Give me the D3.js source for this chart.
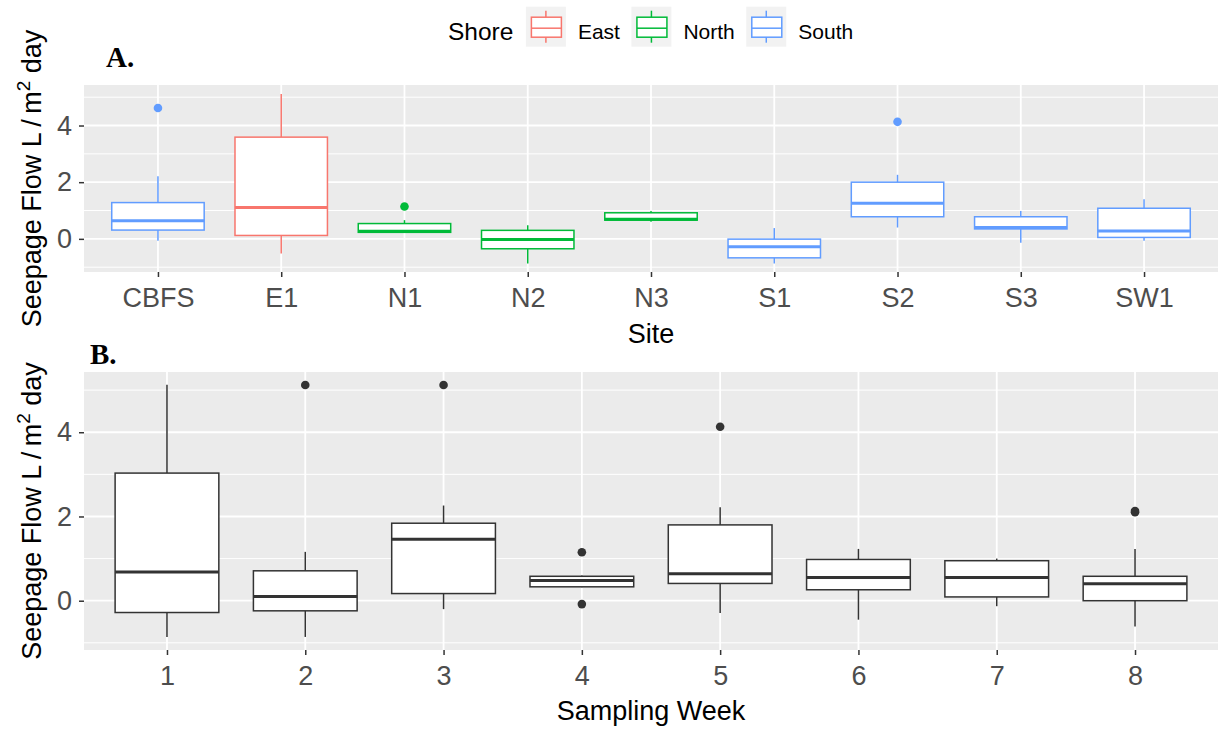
<!DOCTYPE html>
<html>
<head>
<meta charset="utf-8">
<script src="https://cdn.jsdelivr.net/npm/d3@7"></script>
<style>
  body { margin: 0; background: #fff; }
  text { font-family: "Liberation Sans", Arial, sans-serif; }
</style>
</head>
<body>
<svg id="chart" width="1226" height="730"></svg>
<script>
// panel A - by site
const sites = ["CBFS", "E1", "N1", "N2", "N3", "S1", "S2", "S3", "SW1"];
const siteShore = ["South", "East", "North", "North", "North", "South", "South", "South", "South"];
const siteLower  = [-0.07, -0.52, 0.23, -0.87, 0.60, -0.87, 0.40, -0.14, -0.07];
const siteQ1     = [0.31, 0.12, 0.23, -0.35, 0.66, -0.67, 0.78, 0.35, 0.05];
const siteMedian = [0.64, 1.11, 0.27, -0.02, 0.69, -0.28, 1.26, 0.40, 0.28];
const siteQ3     = [1.28, 3.59, 0.54, 0.30, 0.92, -0.01, 2.00, 0.78, 1.08];
const siteUpper  = [2.21, 5.11, 0.66, 0.48, 0.98, 0.38, 2.26, 0.98, 1.40];
const siteOutliers = [[4.62], [], [1.14], [], [], [], [4.13], [], []];

// panel B - by sampling week
const weeks = ["1", "2", "3", "4", "5", "6", "7", "8"];
const weekLower  = [-0.86, -0.86, -0.20, 0.32, -0.29, -0.45, -0.13, -0.61];
const weekQ1     = [-0.28, -0.24, 0.17, 0.33, 0.41, 0.26, 0.09, 0.00];
const weekMedian = [0.68, 0.10, 1.46, 0.48, 0.64, 0.55, 0.55, 0.40];
const weekQ3     = [3.03, 0.71, 1.84, 0.58, 1.80, 0.98, 0.95, 0.58];
const weekUpper  = [5.13, 1.16, 2.26, 0.60, 2.22, 1.23, 1.00, 1.23];
const weekOutliers = [[], [5.12], [5.12], [1.15, -0.08], [4.13], [], [], [2.10, 2.13]];

const shores = ["East", "North", "South"];
const shoreColors = ["#F8766D", "#00BA38", "#619CFF"];
const majorTicks = [0, 2, 4];
const minorTicks = [-1, 1, 3, 5];

const svg = d3.select("#chart");
const colour = d3.scaleOrdinal().domain(shores).range(shoreColors);

// shared y domain, ggplot style 5% expansion
let allVals = [].concat(siteLower, siteUpper, weekLower, weekUpper, siteOutliers.flat(), weekOutliers.flat());
let lo = d3.min(allVals), hi = d3.max(allVals);
let pad = (hi - lo) * 0.05;
const yDomain = [lo - pad, hi + pad];

function drawPanel(opt) {
  const x = d3.scalePoint().domain(opt.cats).range([opt.left, opt.right]).padding(0.6);
  const y = d3.scaleLinear().domain(yDomain).range([opt.bottom, opt.top]);
  const g = svg.append("g");

  g.append("rect")
    .attr("x", opt.left).attr("y", opt.top)
    .attr("width", opt.right - opt.left).attr("height", opt.bottom - opt.top)
    .attr("fill", "#EBEBEB");

  g.selectAll(".minor").data(minorTicks).enter().append("line")
    .attr("x1", opt.left).attr("x2", opt.right)
    .attr("y1", d => y(d)).attr("y2", d => y(d))
    .attr("stroke", "#fff").attr("stroke-width", 1);
  g.selectAll(".major").data(majorTicks).enter().append("line")
    .attr("x1", opt.left).attr("x2", opt.right)
    .attr("y1", d => y(d)).attr("y2", d => y(d))
    .attr("stroke", "#fff").attr("stroke-width", 1.8);
  g.selectAll(".vmajor").data(opt.cats).enter().append("line")
    .attr("x1", d => x(d)).attr("x2", d => x(d))
    .attr("y1", opt.top).attr("y2", opt.bottom)
    .attr("stroke", "#fff").attr("stroke-width", 1.8);

  const bw = x.step() * 0.75;
  opt.cats.forEach((c, i) => {
    const col = opt.color(i);
    const cx = x(c);
    // whiskers
    g.append("line").attr("x1", cx).attr("x2", cx)
      .attr("y1", y(opt.upper[i])).attr("y2", y(opt.q3[i]))
      .attr("stroke", col).attr("stroke-width", 1.5);
    g.append("line").attr("x1", cx).attr("x2", cx)
      .attr("y1", y(opt.q1[i])).attr("y2", y(opt.lower[i]))
      .attr("stroke", col).attr("stroke-width", 1.5);
    // box
    g.append("rect")
      .attr("x", cx - bw / 2).attr("y", y(opt.q3[i]))
      .attr("width", bw).attr("height", Math.max(0.5, y(opt.q1[i]) - y(opt.q3[i])))
      .attr("fill", "#fff").attr("stroke", col).attr("stroke-width", 1.5);
    // median
    g.append("line")
      .attr("x1", cx - bw / 2).attr("x2", cx + bw / 2)
      .attr("y1", y(opt.median[i])).attr("y2", y(opt.median[i]))
      .attr("stroke", col).attr("stroke-width", 3);
    // outliers
    g.selectAll(null).data(opt.outliers[i]).enter().append("circle")
      .attr("cx", cx).attr("cy", d => y(d)).attr("r", 4.3)
      .attr("fill", col);
  });

  const xAxis = g.append("g")
    .attr("transform", "translate(0," + opt.bottom + ")")
    .call(d3.axisBottom(x).tickSize(5).tickPadding(11));
  const yAxis = g.append("g")
    .attr("transform", "translate(" + opt.left + ",0)")
    .call(d3.axisLeft(y).tickValues(majorTicks).tickFormat(d3.format("d")).tickSize(5).tickPadding(7));
  [xAxis, yAxis].forEach(a => {
    a.select(".domain").remove();
    a.selectAll(".tick line").attr("stroke", "#333").attr("stroke-width", 1.5);
    a.selectAll(".tick text").attr("fill", "#4D4D4D").style("font-size", "27px")
      .style("font-family", "'Liberation Sans', Arial, sans-serif");
  });

  // x title
  g.append("text")
    .attr("x", (opt.left + opt.right) / 2).attr("y", opt.xTitleY)
    .attr("text-anchor", "middle").style("font-size", "27px").attr("fill", "#000")
    .text(opt.xTitle);

  // y title
  const yt = g.append("text")
    .attr("transform", "translate(41," + ((opt.top + opt.bottom) / 2) + ") rotate(-90)")
    .attr("text-anchor", "middle").style("font-size", "27px").attr("fill", "#000");
  yt.append("tspan").text("Seepage Flow L\u2009/\u2009m");
  yt.append("tspan").attr("dy", -11).style("font-size", "19px").text("2");
  yt.append("tspan").attr("dy", 11).text(" day");

  // panel letter
  svg.append("text")
    .attr("x", opt.letterX).attr("y", opt.letterY)
    .style("font-family", "'Liberation Serif', 'Times New Roman', serif")
    .style("font-weight", "bold").style("font-size", "29px")
    .text(opt.letter);
}

drawPanel({
  cats: sites, lower: siteLower, q1: siteQ1, median: siteMedian, q3: siteQ3,
  upper: siteUpper, outliers: siteOutliers,
  color: i => colour(siteShore[i]),
  left: 84, right: 1218, top: 85, bottom: 272,
  xTitle: "Site", xTitleY: 343, letter: "A.", letterX: 106, letterY: 67
});

drawPanel({
  cats: weeks, lower: weekLower, q1: weekQ1, median: weekMedian, q3: weekQ3,
  upper: weekUpper, outliers: weekOutliers,
  color: i => "#333333",
  left: 84, right: 1218, top: 372, bottom: 650,
  xTitle: "Sampling Week", xTitleY: 720, letter: "B.", letterX: 90, letterY: 364
});

// legend
const legend = svg.append("g");
let lx = 448;
const title = legend.append("text").attr("x", lx).attr("y", 39.5)
  .style("font-size", "24.5px").attr("fill", "#000").text("Shore");
lx += title.node().getComputedTextLength() + 12.5;
shores.forEach((s, i) => {
  const key = legend.append("g").attr("transform", "translate(" + lx + ",6.7)");
  const col = colour(s);
  key.append("rect").attr("width", 40).attr("height", 40).attr("fill", "#F2F2F2");
  key.append("line").attr("x1", 20).attr("x2", 20).attr("y1", 4).attr("y2", 36)
    .attr("stroke", col).attr("stroke-width", 1.5);
  key.append("rect").attr("x", 5.5).attr("y", 10.5).attr("width", 30).attr("height", 20)
    .attr("fill", "#fff").attr("stroke", col).attr("stroke-width", 1.5);
  key.append("line").attr("x1", 5.5).attr("x2", 35.5).attr("y1", 21.5).attr("y2", 21.5)
    .attr("stroke", col).attr("stroke-width", 1.5);
  lx += 40 + 12;
  const t = legend.append("text").attr("x", lx).attr("y", 39)
    .style("font-size", "21px").attr("fill", "#000").text(s);
  lx += t.node().getComputedTextLength() + 11.5;
});
</script>
</body>
</html>
